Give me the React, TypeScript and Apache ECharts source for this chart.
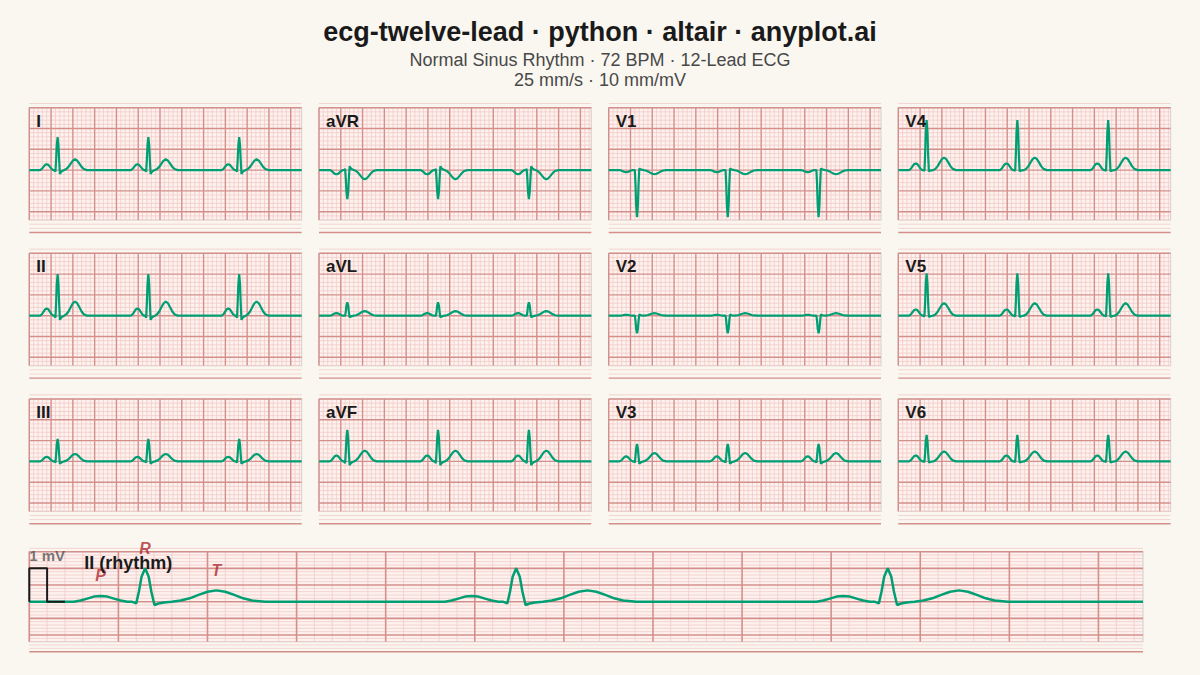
import React, { useEffect, useRef } from "react";
import * as echarts from "echarts";

// ---------------- data ----------------
const LEADS = ["I", "II", "III", "aVR", "aVL", "aVF", "V1", "V2", "V3", "V4", "V5", "V6"];
const LEAD_COL = [0, 0, 0, 1, 1, 1, 2, 2, 2, 3, 3, 3];
const LEAD_ROW = [0, 1, 2, 0, 1, 2, 0, 1, 2, 0, 1, 2];

// wave amplitudes per lead (mV)
const P_AMP = [0.14, 0.17, 0.11, -0.1, 0.06, 0.14, -0.05, 0.02, 0.12, 0.16, 0.15, 0.14];
const Q_AMP = [-0.04, -0.05, -0.03, 0.03, 0.0, -0.04, 0.0, 0.0, -0.03, -0.02, -0.02, -0.02];
const R_AMP = [0.79, 1.0, 0.54, -0.7, 0.32, 0.76, -1.13, -0.42, 0.42, 1.2, 1.02, 0.64];
const S_AMP = [-0.09, -0.1, -0.06, 0.09, -0.04, -0.09, 0.04, 0.03, -0.06, -0.03, -0.03, -0.03];
const T_AMP = [0.26, 0.34, 0.18, -0.22, 0.11, 0.26, -0.1, 0.06, 0.2, 0.3, 0.3, 0.24];

// R-peak times (s) of the three beats in each 2.5 s strip
const BEAT_R_TIMES = [0.26, 1.093, 1.927];

// beat template vertices: [time from R peak (s), wave, fraction of that wave's amplitude]
const WAVE_SHAPE: [number, string, number][] = [
  [-0.16, "P", 0], [-0.145, "P", 0.2], [-0.13, "P", 0.55], [-0.115, "P", 0.9], [-0.1, "P", 1],
  [-0.085, "P", 0.9], [-0.07, "P", 0.55], [-0.055, "P", 0.2], [-0.04, "P", 0],
  [-0.03, "Q", 0], [-0.02, "Q", 1],
  [-0.014, "R", 0.3], [-0.008, "R", 0.75], [0, "R", 1], [0.008, "R", 0.75], [0.014, "R", 0.3],
  [0.021, "S", 1], [0.03, "S", 0.55], [0.042, "S", 0.25],
  [0.06, "T", 0], [0.08, "T", 0.1], [0.1, "T", 0.3], [0.12, "T", 0.6], [0.14, "T", 0.88],
  [0.16, "T", 1], [0.18, "T", 0.88], [0.2, "T", 0.6], [0.22, "T", 0.3], [0.24, "T", 0.1], [0.27, "T", 0],
];

const STRIP_SECONDS = 2.5;
const RHYTHM_LEAD = "II";
const CALIBRATION = [[0, 0], [0, 1], [0.04, 1], [0.04, 0], [0.08, 0]];
const WAVE_MARKS = ["P", "R", "T"];
const WAVE_MARK_DT = [-0.1, 0, 0.16];

const TITLE = "ecg-twelve-lead · python · altair · anyplot.ai";
const SUBTITLE_1 = "Normal Sinus Rhythm · 72 BPM · 12-Lead ECG";
const SUBTITLE_2 = "25 mm/s · 10 mm/mV";

// ---------------- style / layout ----------------
const FONT = "'Liberation Sans', Arial, Helvetica, sans-serif";
const PAGE_BG = "#faf7f1";
const PAPER_BG = "#fdf2ef";
const MINOR = "#f1cbc6";
const MAJOR = "#d48f8b";
const TRACE = "#009e73";

const COL_LEFT = [29.3, 319, 608.7, 898.3];
const PANEL_W = 272.3;
const ROW_TOP = [107.7, 253.3, 399];
const PANEL_PX_PER_MV = 41.6;
const RHYTHM = { left: 29.3, top: 551.7, width: 1113.7, pxPerMv: 33.33 };

const PLOT_MIN = -1.2;
const PLOT_MAX = 1.5;
const PAPER_MIN = -1.5;
const PAPER_MAX = 1.6;

function leadTrace(leadIdx: number): number[][] {
  const amp: Record<string, number> = {
    P: P_AMP[leadIdx], Q: Q_AMP[leadIdx], R: R_AMP[leadIdx], S: S_AMP[leadIdx], T: T_AMP[leadIdx],
  };
  const pts: number[][] = [[0, 0]];
  BEAT_R_TIMES.forEach((tR) => {
    WAVE_SHAPE.forEach(([dt, w, f]) => pts.push([tR + dt, amp[w] * f]));
  });
  pts.push([STRIP_SECONDS, 0]);
  return pts;
}

function paperItems(): number[][] {
  const items: number[][] = [[0, PLOT_MAX, STRIP_SECONDS, PLOT_MIN, 2]];
  const vx: number[] = [];
  for (let k = 0; k * 0.04 < STRIP_SECONDS - 1e-9; k++) vx.push(k);
  const hy: number[] = [];
  for (let j = -15; j <= 16; j++) hy.push(j);
  vx.filter((k) => k % 5 !== 0).forEach((k) => items.push([k * 0.04, PLOT_MIN, k * 0.04, PLOT_MAX, 0]));
  hy.filter((j) => j % 5 !== 0).forEach((j) => items.push([0, j / 10, STRIP_SECONDS, j / 10, 0]));
  vx.filter((k) => k % 5 === 0).forEach((k) => items.push([k * 0.04, PLOT_MIN, k * 0.04, PLOT_MAX, 1]));
  hy.filter((j) => j % 5 === 0).forEach((j) => items.push([0, j / 10, STRIP_SECONDS, j / 10, 1]));
  return items;
}

function paperSeries(idx: number, majorW: number) {
  return {
    type: "custom",
    xAxisIndex: idx,
    yAxisIndex: idx,
    silent: true,
    clip: false,
    z: 1,
    encode: { x: [0, 2], y: [1, 3] },
    data: paperItems(),
    renderItem: (_p: any, api: any) => {
      const kind = api.value(4);
      const a = api.coord([api.value(0), api.value(1)]);
      const b = api.coord([api.value(2), api.value(3)]);
      if (kind === 2) {
        return {
          type: "rect",
          shape: { x: a[0], y: a[1], width: b[0] - a[0], height: b[1] - a[1] },
          style: { fill: PAPER_BG, stroke: "#d9d6d4", lineWidth: 1.2 },
        };
      }
      return {
        type: "line",
        shape: { x1: a[0], y1: a[1], x2: b[0], y2: b[1] },
        style: { stroke: kind === 1 ? MAJOR : MINOR, lineWidth: kind === 1 ? majorW : 0.8 },
      };
    },
  };
}

function buildOption() {
  const grids: any[] = [];
  const xAxes: any[] = [];
  const yAxes: any[] = [];
  const series: any[] = [];
  const titles: any[] = [
    { text: TITLE, left: "center", top: 18, padding: 0,
      textStyle: { fontFamily: FONT, fontSize: 27, fontWeight: "bold", color: "#1a1a1a" } },
    { text: SUBTITLE_1, left: "center", top: 51, padding: 0,
      textStyle: { fontFamily: FONT, fontSize: 18, fontWeight: "normal", color: "#484848" } },
    { text: SUBTITLE_2, left: "center", top: 71, padding: 0,
      textStyle: { fontFamily: FONT, fontSize: 18, fontWeight: "normal", color: "#484848" } },
  ];

  const axisX = (gi: number) => ({ type: "value", gridIndex: gi, min: 0, max: STRIP_SECONDS, show: false });
  const axisY = (gi: number) => ({ type: "value", gridIndex: gi, min: PAPER_MIN, max: PAPER_MAX, show: false });

  LEADS.forEach((lead, i) => {
    const left = COL_LEFT[LEAD_COL[i]];
    const plotTop = ROW_TOP[LEAD_ROW[i]];
    grids.push({
      left, width: PANEL_W,
      top: plotTop - (PAPER_MAX - PLOT_MAX) * PANEL_PX_PER_MV,
      height: (PAPER_MAX - PAPER_MIN) * PANEL_PX_PER_MV,
    });
    xAxes.push(axisX(i));
    yAxes.push(axisY(i));
    series.push(paperSeries(i, 1.4));
    series.push({
      type: "line", xAxisIndex: i, yAxisIndex: i, data: leadTrace(i), symbol: "none",
      silent: true, z: 3, lineStyle: { color: TRACE, width: 2.2 },
    });
    titles.push({
      text: lead, left: left + 7, top: plotTop + 5, padding: 0,
      textStyle: { fontFamily: FONT, fontSize: 17, fontWeight: "bold", color: "#1a1a1a" },
    });
  });

  // rhythm strip
  const ri = LEADS.length;
  const rLead = LEADS.indexOf(RHYTHM_LEAD);
  grids.push({
    left: RHYTHM.left, width: RHYTHM.width,
    top: RHYTHM.top - (PAPER_MAX - PLOT_MAX) * RHYTHM.pxPerMv,
    height: (PAPER_MAX - PAPER_MIN) * RHYTHM.pxPerMv,
  });
  xAxes.push(axisX(ri));
  yAxes.push(axisY(ri));
  series.push(paperSeries(ri, 1.6));
  series.push({
    type: "line", xAxisIndex: ri, yAxisIndex: ri, data: leadTrace(rLead), symbol: "none",
    silent: true, z: 3, lineStyle: { color: TRACE, width: 2.5 },
  });
  series.push({
    type: "line", xAxisIndex: ri, yAxisIndex: ri, data: CALIBRATION, symbol: "none",
    silent: true, z: 4, lineStyle: { color: "#1a1a1a", width: 2 },
  });
  series.push({
    type: "scatter", xAxisIndex: ri, yAxisIndex: ri, silent: true, z: 5,
    symbolSize: 0.1, itemStyle: { color: "rgba(0,0,0,0)" },
    data: [[CALIBRATION[1][0], CALIBRATION[1][1]]],
    label: {
      show: true, formatter: "1 mV", position: [0, -5], align: "left", verticalAlign: "bottom",
      fontFamily: FONT, fontSize: 15, fontWeight: "bold", color: "#555555",
    },
  });
  const ampOf: Record<string, number> = { P: P_AMP[rLead], R: R_AMP[rLead], T: T_AMP[rLead] };
  series.push({
    type: "scatter", xAxisIndex: ri, yAxisIndex: ri, silent: true, z: 5,
    symbolSize: 0.1, itemStyle: { color: "rgba(0,0,0,0)" },
    data: WAVE_MARKS.map((w, k) => [BEAT_R_TIMES[0] + WAVE_MARK_DT[k], ampOf[w]]),
    label: {
      show: true, position: "top", distance: 12,
      formatter: (p: any) => WAVE_MARKS[p.dataIndex],
      fontFamily: FONT, fontSize: 16, fontWeight: "bold", fontStyle: "italic", color: "#ad2a30",
    },
  });
  titles.push({
    text: `${RHYTHM_LEAD} (rhythm)`, left: RHYTHM.left + 55, top: RHYTHM.top + 2, padding: 0,
    textStyle: { fontFamily: FONT, fontSize: 18, fontWeight: "bold", color: "#1a1a1a" },
  });

  return {
    animation: false,
    backgroundColor: PAGE_BG,
    title: titles,
    grid: grids,
    xAxis: xAxes,
    yAxis: yAxes,
    series,
  };
}

export default function App() {
  const ref = useRef<HTMLDivElement>(null);
  useEffect(() => {
    if (!ref.current) return;
    const chart = echarts.init(ref.current, undefined, { renderer: "svg" });
    chart.setOption(buildOption() as any);
    return () => chart.dispose();
  }, []);
  return (
    <div
      ref={ref}
      style={{ position: "fixed", left: 0, top: 0, width: 1200, height: 675, background: PAGE_BG }}
    />
  );
}
